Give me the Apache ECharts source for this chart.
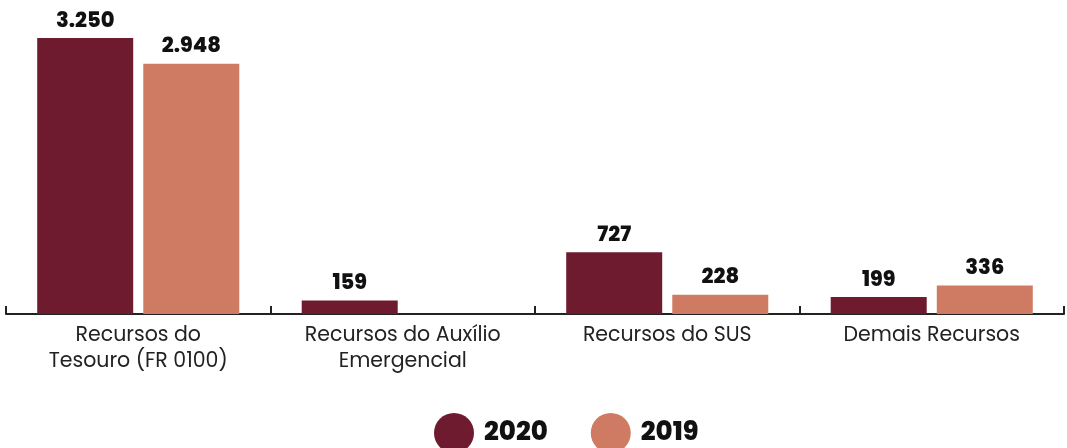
<!DOCTYPE html>
<html>
<head>
<meta charset="utf-8">
<script src="https://cdn.jsdelivr.net/npm/echarts@6/dist/echarts.min.js"></script>
<style>
  html, body { margin: 0; padding: 0; background: #fff; }
  #chart { width: 1067px; height: 448px; }
</style>
</head>
<body>
<div id="chart"></div>
<script>
var categories = ['Recursos do\nTesouro (FR 0100)', 'Recursos do Auxílio\nEmergencial', 'Recursos do SUS', 'Demais Recursos'];
var values2020 = [3250, 159, 727, 199];
var values2019 = [2948, '-', 228, 336];

var fontFam = 'Poppins, Inter, "Noto Sans", sans-serif';

function fmt(p) {
  return Number(p.value).toLocaleString('pt-BR');
}

var chart = echarts.init(document.getElementById('chart'));
var option = {
  animation: false,
  grid: { left: 6, right: 3, top: 38, bottom: 134 },
  legend: {
    data: ['2020', '2019'],
    top: 408,
    left: 429,
    icon: 'circle',
    itemWidth: 40,
    itemHeight: 40,
    itemGap: 43,
    textStyle: { fontFamily: fontFam, fontSize: 26, fontWeight: 800, color: '#111', padding: [0, 0, 0, 5] }
  },
  xAxis: {
    type: 'category',
    data: categories,
    axisLine: { show: true, lineStyle: { color: '#222', width: 2 } },
    axisTick: { show: true, inside: true, length: 8, interval: 0, lineStyle: { color: '#222', width: 2 } },
    axisLabel: { fontFamily: fontFam, fontSize: 20.5, color: '#222', lineHeight: 26, margin: 9, interval: 0 }
  },
  yAxis: {
    type: 'value',
    min: 0,
    max: 'dataMax',
    axisLine: { show: false },
    axisTick: { show: false },
    axisLabel: { show: false },
    splitLine: { show: false }
  },
  series: [
    {
      name: '2020',
      type: 'bar',
      data: values2020,
      barWidth: 96,
      barGap: '10.5%',
      itemStyle: { color: '#6e1a2f' },
      label: { show: true, position: 'top', distance: 6, formatter: fmt, fontFamily: fontFam, fontSize: 21, fontWeight: 800, color: '#111' }
    },
    {
      name: '2019',
      type: 'bar',
      data: values2019,
      barWidth: 96,
      itemStyle: { color: '#cf7b63' },
      label: { show: true, position: 'top', distance: 6, formatter: fmt, fontFamily: fontFam, fontSize: 21, fontWeight: 800, color: '#111' }
    }
  ]
};
chart.setOption(option);
</script>
</body>
</html>
